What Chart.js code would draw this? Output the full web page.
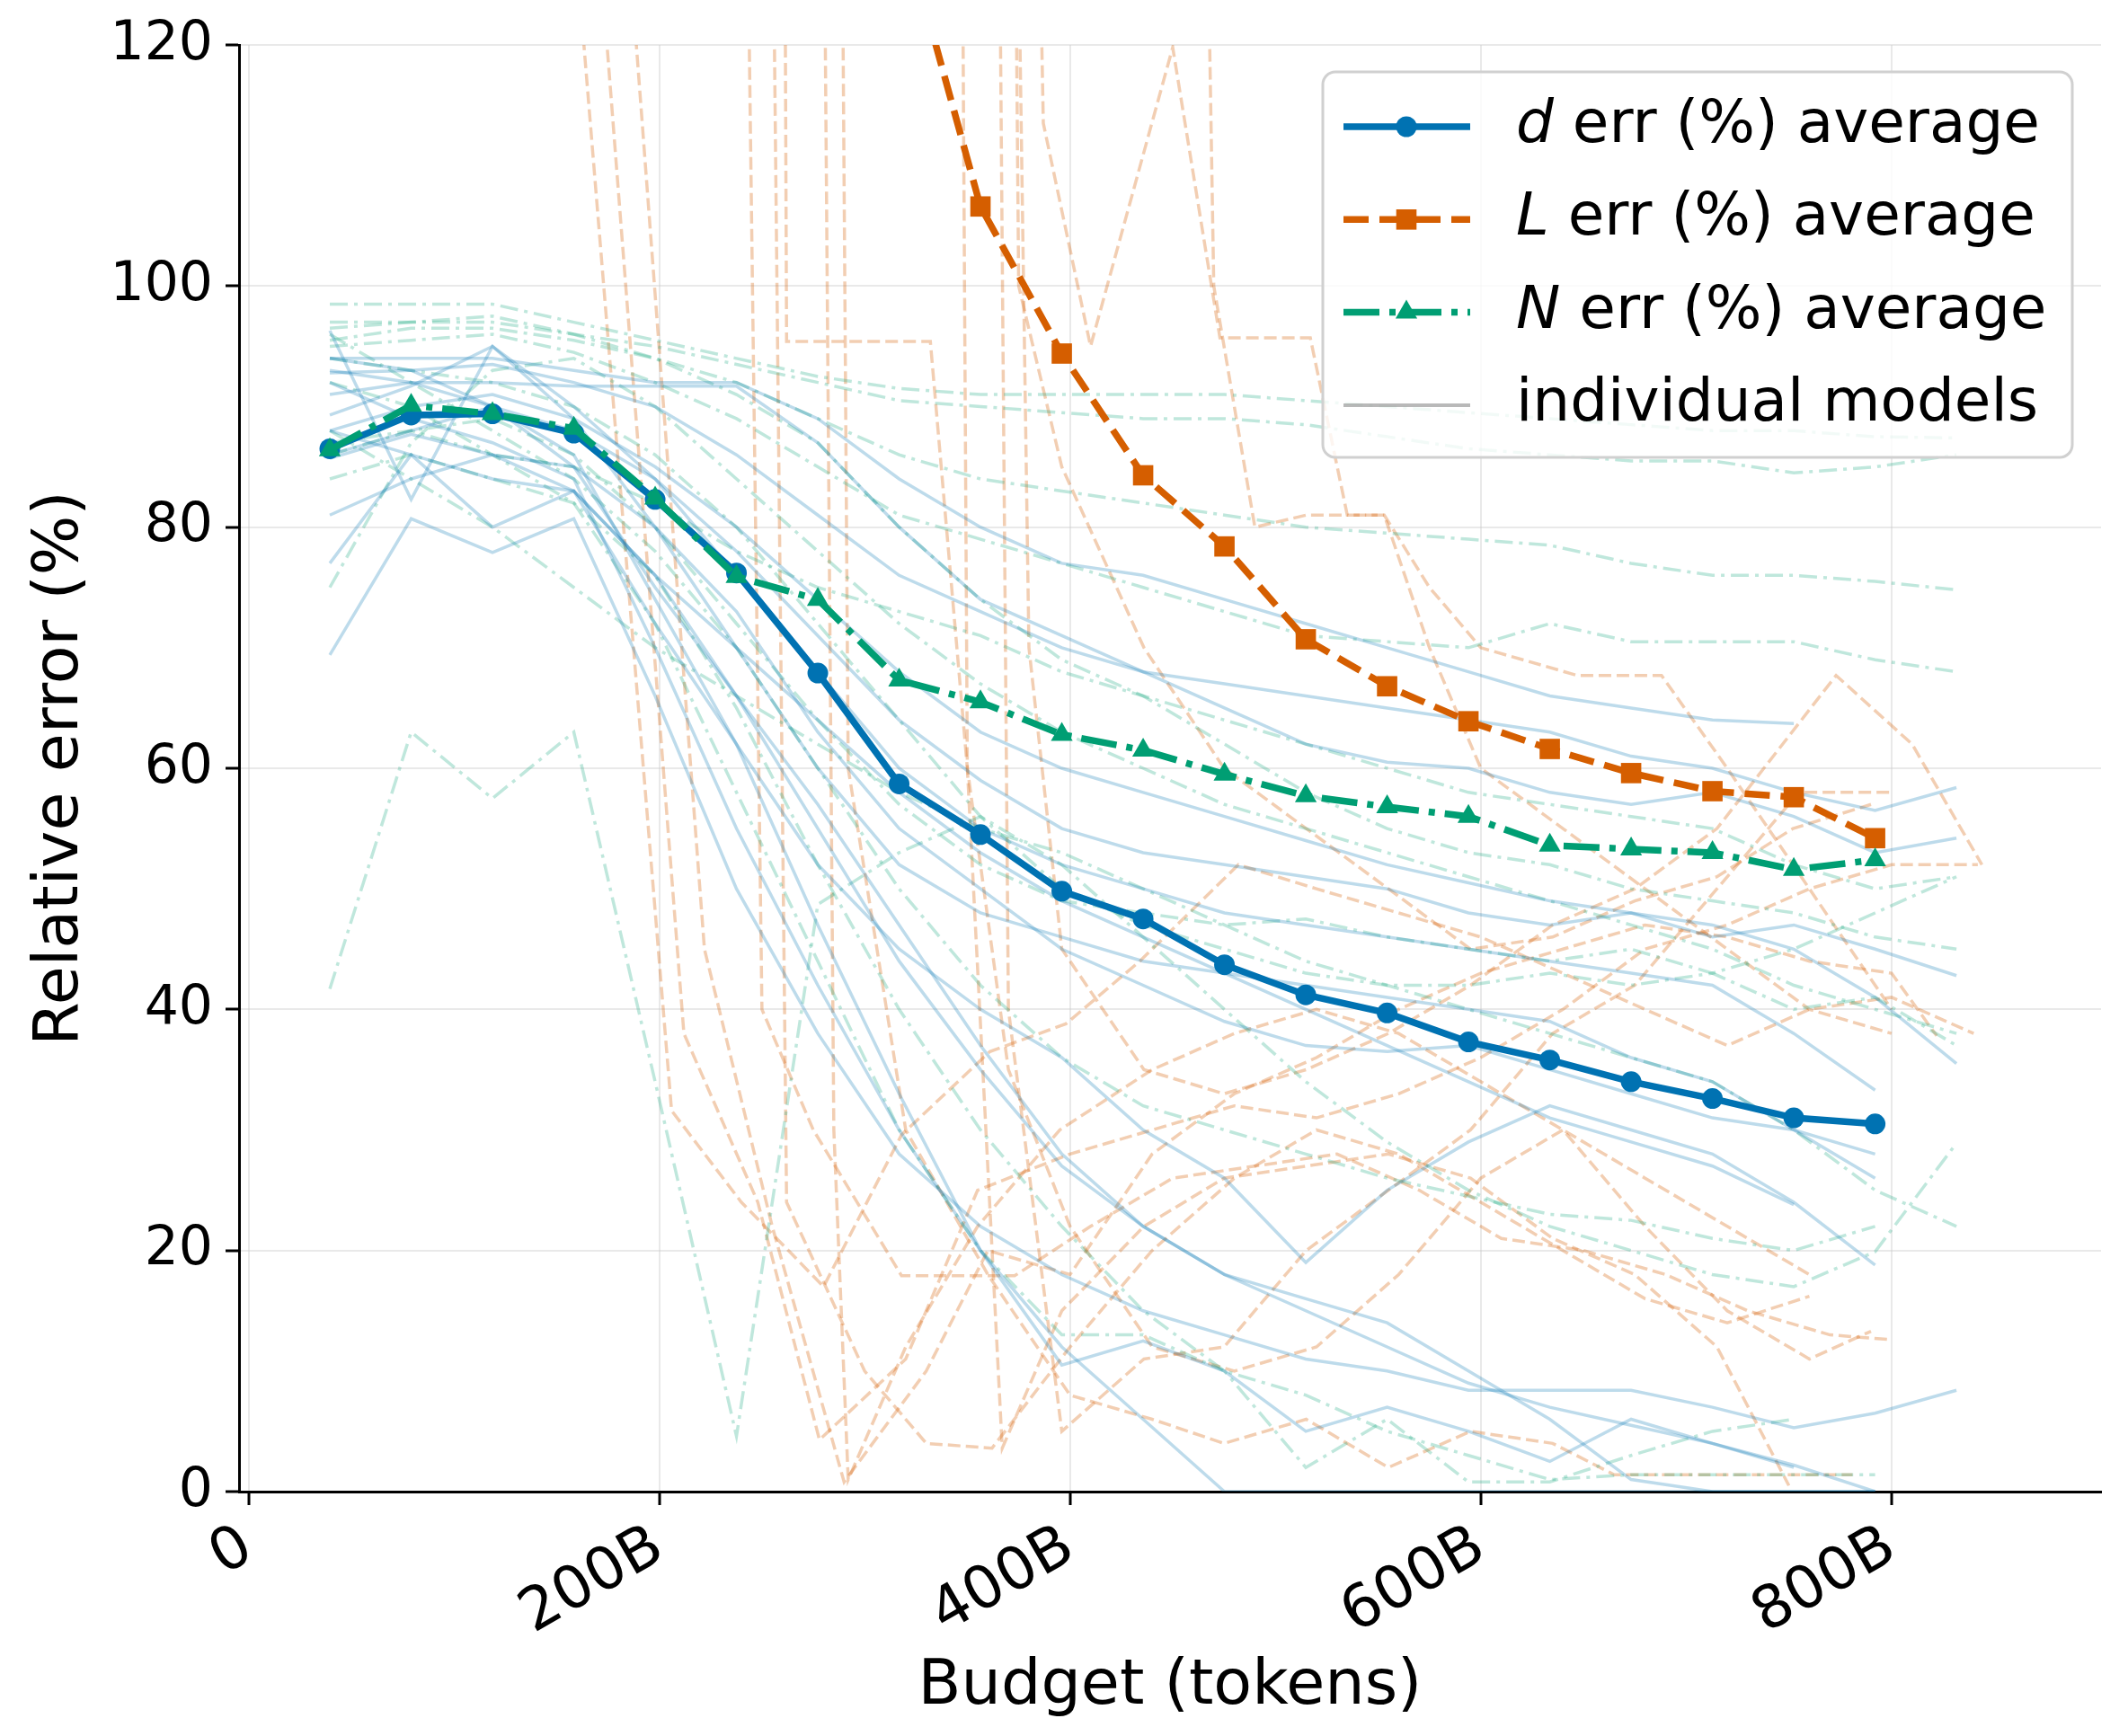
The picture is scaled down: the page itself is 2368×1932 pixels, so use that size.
<!DOCTYPE html>
<html>
<head>
  <meta charset="utf-8">
  <title>Relative error vs budget</title>
  <style>
    body { margin: 0; background: #fff; }
    #wrap { width: 2368px; height: 1932px; }
  </style>
</head>
<body>
<div id="wrap"><canvas id="errChart" width="2368" height="1932"></canvas></div>

<script src="https://cdn.jsdelivr.net/npm/chart.js"></script>
<script>
  // budget grid (billions of tokens)
  var budgets = [39.6, 79.2, 118.8, 158.4, 198, 237.6, 277.2, 316.8, 356.4, 396,
                 435.6, 475.2, 514.8, 554.4, 594, 633.6, 673.2, 712.8, 752.4, 792, 831.6];
  var xTicks = [0, 200, 400, 600, 800];

  // averages
  var dAvg = [86.5, 89.3, 89.4, 87.8, 82.3, 76.2, 67.9, 58.7, 54.5, 49.8,
              47.5, 43.7, 41.2, 39.7, 37.3, 35.8, 34.0, 32.6, 31.0, 30.5];
  var lAvg = [null, null, null, null, null, null, 170, 131, 106.6, 94.4,
              84.3, 78.4, 70.7, 66.8, 63.9, 61.6, 59.6, 58.1, 57.6, 54.2];
  var nAvg = [86.4, 90.1, 89.4, 88.2, 82.4, 75.9, 74.0, 67.3, 65.5, 62.8,
              61.5, 59.5, 57.7, 56.8, 56.0, 53.6, 53.3, 53.0, 51.6, 52.4];

  // individual models, d err (on budget grid)
  var dModels = [
    [94, 94, 94, 93, 92, 92, 89, 84, 80, 77, 76, 74, 72, 70, 68, 66, 65, 64, 63.7],
    [92.8, 93, 93.5, 92, 90, 86, 81, 76, 73, 70, 68, 67, 66, 65, 64, 63, 61, 60, 58, 56.5, 58.4],
    [91, 92, 92, 91.7, 91.7, 91.7, 87, 80, 74, 71, 68, 65, 62, 60.5, 60, 58, 57, 58, 56, 53, 54.2],
    [89.3, 91.7, 95, 90, 84, 78, 71, 64, 59, 55, 53, 52, 51, 50, 48, 47, 48, 46, 47, 45, 42.8],
    [88, 90, 91, 89, 85, 80, 74, 68, 63, 60, 58, 56, 54, 52, 50.5, 49, 48, 47, 45, 41, 35.5],
    [86, 88, 90, 88, 84, 76, 68, 60, 55, 52, 50, 48, 47, 46, 45, 44, 43, 42, 38, 33.3],
    [85.7, 87.7, 86, 85, 80, 73, 63, 55, 50, 45, 42, 39, 37, 36.5, 37, 35, 33, 31, 30, 26],
    [81, 84, 86, 83, 76, 70, 64, 58, 53, 49, 46, 43, 40, 37, 34, 31, 29, 27, 23.8],
    [77, 86, 80, 83, 72, 62, 52, 45, 40, 36, 30, 26, 19, 25, 29, 32, 30, 28, 24, 18.8],
    [93, 92, 90, 86, 74, 62, 47, 33, 20, 12, 6, 0, 0, 0, 0, 0, 0, 0, 0, 0],
    [69.4, 80.7, 77.9, 80.7, 66, 50, 38, 28, 22, 18, 15, 13, 11, 10, 8.4, 8.4, 8.4, 7, 5.3, 6.5, 8.4],
    [94, 93, 90, 85, 75, 66, 57, 47, 37, 28, 22, 18, 15, 12, 9, 7, 5.5, 4, 2],
    [92, 89, 87, 84, 70, 55, 42, 30, 20, 10.5, 12.5, 10, 5, 7, 5, 2.5, 6, 4, 2.2, 0],
    [88, 86, 84, 83, 76, 66, 55, 44, 35, 27, 22, 18, 16, 14, 10, 6, 1, 0, 0, 0],
    [96.3, 82.3, 95, 89, 80, 70, 60, 52, 48, 46, 44, 43, 42, 41, 40, 39, 36, 34, 30, 28]
  ];

  // individual models, N err (on budget grid)
  var nModels = [
    [98.5, 98.5, 98.5, 97, 95.5, 94, 92.5, 91.5, 91, 91, 91, 91, 90.5, 90, 89.5, 89, 88.5, 88, 88, 87.5, 87.4],
    [96.5, 97, 97.5, 96, 95, 93.5, 92, 90.5, 90, 89.5, 89, 89, 88.5, 87.5, 86.5, 86, 85.5, 85.5, 84.5, 85, 86],
    [95.5, 96.5, 96.5, 95.5, 94, 92, 89, 86, 84, 83, 82, 81, 80, 79.5, 79, 78.5, 77, 76, 76, 75.5, 74.8],
    [95, 95.5, 96, 94.5, 92, 89, 85, 81, 79, 77, 75, 73, 71, 70.5, 70, 72, 70.5, 70.5, 70.5, 69, 68],
    [87, 88, 86, 85, 82, 78, 75, 73, 71, 68, 66, 64, 62, 60, 58, 57, 56, 55, 52, 50, 51],
    [41.7, 63, 57.5, 63, 34, 4.6, 48.7, 53, 56, 52, 46, 40, 34, 29, 25, 22, 20, 18, 17, 19.9, 28.9],
    [75, 87, 93, 94, 90, 84, 78, 72, 67, 63, 60, 57, 55, 53, 51, 49, 47, 45, 42, 40, 38],
    [84, 86, 84, 82, 76, 65, 52, 40, 30, 22, 15, 10, 8, 5, 3, 1, 1.4, 1.4, 1.4, 1.4],
    [92, 90, 86, 82, 72, 58, 44, 30, 20, 13, 13, 10, 2, 6, 0.8, 0.8, 3, 5, 6],
    [88, 84, 80, 75, 70, 66, 62, 58, 55, 53, 50, 47, 44, 42, 40, 38, 36, 34, 30, 25, 22],
    [96, 92, 88, 84, 78, 70, 60, 50, 42, 36, 32, 30, 28, 26, 24.5, 23, 22.5, 21, 20, 22],
    [94, 93, 92, 90, 86, 80, 72, 64, 56, 50, 47, 45, 43, 42, 42, 43, 42, 43, 40, 41, 37],
    [86, 88, 89, 86, 80, 72, 64, 57, 52, 49, 48, 47, 47.5, 46, 45, 44, 45, 43, 45, 48, 51],
    [97, 97, 97, 96, 94, 91, 87, 80, 74, 69, 66, 62, 58, 55, 53, 52, 50, 49, 48, 46, 45]
  ];

  // individual models, L err ([budget B, err %]); these drop in from far above the axis
  var lModels = [
    [[158, 131], [206, 31.6], [240, 24], [280, 17], [318, 29.6], [361, 36.5], [398, 38.8], [434, 44], [482, 52], [520, 50], [560, 48], [600, 46], [640, 43], [680, 40], [720, 37], [760, 40], [800, 41], [840, 38]],
    [[170, 130], [212, 38], [248, 24], [278, 4.3], [320, 11], [355, 25], [400, 28], [440, 30], [480, 32], [520, 31], [560, 33], [600, 36], [640, 40], [680, 45], [720, 47], [760, 50], [800, 52], [842, 52]],
    [[180, 140], [222, 45], [255, 22], [290, 0.8], [330, 10], [360, 20], [400, 18], [440, 28], [480, 33], [520, 36], [560, 40], [600, 43], [640, 45], [680, 47], [720, 46], [760, 44], [800, 43], [822, 37.8]],
    [[230, 300], [250, 40], [275, 30], [318, 17.9], [373, 17.9], [410, 22], [450, 26], [490, 27], [530, 28], [570, 25], [610, 21], [650, 20], [690, 18], [730, 15], [770, 13], [800, 12.6]],
    [[245, 300], [262, 24], [300, 10], [330, 4], [362, 3.6], [400, 12], [440, 20], [480, 26], [520, 30], [560, 28], [600, 24], [640, 20], [680, 16], [720, 14], [760, 16.2]],
    [[250, 600], [262, 95.4], [332, 95.4], [350, 60], [370, 35], [400, 22], [440, 12], [480, 10], [520, 12], [560, 18], [600, 26], [640, 30], [680, 22], [720, 15], [760, 11], [790, 13.3]],
    [[268, 400], [285, 30], [292, 1.0], [320, 12], [355, 22], [395, 30], [440, 35], [480, 38], [520, 40], [560, 38], [600, 34], [640, 30], [680, 26], [720, 22], [760, 18]],
    [[278, 400], [292, 60], [320, 30], [360, 18], [400, 8], [440, 6], [475, 4], [515, 6], [555, 2], [595, 5], [635, 4], [665, 1.4], [781, 1.4]],
    [[335, 500], [350, 60], [367, 3.6], [396, 15], [436, 22], [475, 26], [515, 27], [555, 28], [595, 26], [635, 21], [675, 18], [715, 12], [750, 0.5]],
    [[348, 500], [370, 40], [396, 5], [436, 11], [475, 12], [515, 20], [555, 25], [595, 30], [635, 38], [675, 42], [715, 50], [755, 58], [800, 58]],
    [[355, 400], [387, 113.5], [410, 95], [450, 119.8], [473, 95.7], [517, 95.7], [535, 81], [553, 81], [575, 70], [600, 60], [640, 55], [680, 50], [720, 45], [760, 40], [800, 38]],
    [[360, 300], [380, 70], [396, 45], [436, 35], [475, 33], [515, 35], [555, 38], [595, 42], [635, 47], [675, 50], [715, 55], [773, 67.7], [810, 62], [844, 52]],
    [[450, 300], [470, 100], [490, 80], [515, 81], [553, 81], [575, 75], [600, 70], [647, 67.7], [688, 67.7], [720, 60], [760, 50], [800, 40]],
    [[360, 400], [375, 100], [396, 85], [436, 70], [475, 60], [515, 55], [555, 50], [595, 45], [635, 46], [675, 49], [715, 51], [752, 55], [790, 57]]
  ];

  var BLUE = '#0072B2', ORANGE = '#D55E00', GREEN = '#009E73';

  function onGrid(vals) {
    var pts = [];
    for (var i = 0; i < vals.length; i++) {
      if (vals[i] !== null) pts.push({ x: budgets[i], y: vals[i] });
    }
    return pts;
  }
  function fromPairs(pairs) {
    return pairs.map(function (p) { return { x: p[0], y: p[1] }; });
  }

  var datasets = [];
  // averages first so they sit on top
  datasets.push({ label: 'N err (%) average', data: onGrid(nAvg), borderColor: GREEN, backgroundColor: GREEN,
    borderWidth: 7.5, borderDash: [40, 11, 7, 11], pointStyle: 'triangle', pointRadius: 14, pointBorderWidth: 0 });
  datasets.push({ label: 'd err (%) average', data: onGrid(dAvg), borderColor: BLUE, backgroundColor: BLUE,
    borderWidth: 7.5, pointStyle: 'circle', pointRadius: 11.5, pointBorderWidth: 0 });
  datasets.push({ label: 'L err (%) average', data: onGrid(lAvg), borderColor: ORANGE, backgroundColor: ORANGE,
    borderWidth: 7.5, borderDash: [28, 12], pointStyle: 'rect', pointRadius: 16, pointBorderWidth: 0 });

  dModels.forEach(function (m) {
    datasets.push({ data: onGrid(m), borderColor: 'rgba(0,114,178,0.26)', borderWidth: 3.5, pointRadius: 0 });
  });
  nModels.forEach(function (m) {
    datasets.push({ data: onGrid(m), borderColor: 'rgba(0,158,115,0.25)', borderWidth: 3.5,
      borderDash: [20, 7, 4, 7], pointRadius: 0 });
  });
  lModels.forEach(function (m) {
    datasets.push({ data: fromPairs(m), borderColor: 'rgba(213,94,0,0.3)', borderWidth: 3.5,
      borderDash: [14, 6], pointRadius: 0 });
  });

  // matplotlib style legend with italic symbols
  var legendRows = [
    { sym: 'd', rest: ' err (%) average', color: BLUE, dash: [], marker: 'circle' },
    { sym: 'L', rest: ' err (%) average', color: ORANGE, dash: [28, 12], marker: 'rect' },
    { sym: 'N', rest: ' err (%) average', color: GREEN, dash: [40, 11, 7, 11], marker: 'triangle' },
    { sym: '', rest: 'individual models', color: 'rgba(128,128,128,0.55)', dash: [], marker: null }
  ];

  var boxLegend = {
    id: 'boxLegend',
    afterDraw: function (chart) {
      var ctx = chart.ctx;
      var bx = 1472, by = 80, bw = 834, bh = 429, r = 14;
      ctx.save();
      ctx.beginPath();
      ctx.moveTo(bx + r, by);
      ctx.arcTo(bx + bw, by, bx + bw, by + bh, r);
      ctx.arcTo(bx + bw, by + bh, bx, by + bh, r);
      ctx.arcTo(bx, by + bh, bx, by, r);
      ctx.arcTo(bx, by, bx + bw, by, r);
      ctx.closePath();
      ctx.fillStyle = 'rgba(255,255,255,0.8)';
      ctx.fill();
      ctx.strokeStyle = '#d0d0d0';
      ctx.lineWidth = 3;
      ctx.stroke();

      legendRows.forEach(function (row, i) {
        var y = 141 + i * 103.3;
        ctx.setLineDash(row.dash);
        ctx.strokeStyle = row.color;
        ctx.lineWidth = row.marker ? 7.5 : 4;
        ctx.beginPath();
        ctx.moveTo(1495, y);
        ctx.lineTo(1636, y);
        ctx.stroke();
        ctx.setLineDash([]);
        ctx.fillStyle = row.color;
        var mx = 1565;
        if (row.marker === 'circle') {
          ctx.beginPath(); ctx.arc(mx, y, 11.5, 0, Math.PI * 2); ctx.fill();
        } else if (row.marker === 'rect') {
          ctx.fillRect(mx - 11.3, y - 11.3, 22.6, 22.6);
        } else if (row.marker === 'triangle') {
          ctx.beginPath();
          ctx.moveTo(mx, y - 14);
          ctx.lineTo(mx + 12.1, y + 7);
          ctx.lineTo(mx - 12.1, y + 7);
          ctx.closePath(); ctx.fill();
        }
        ctx.fillStyle = '#000';
        ctx.textBaseline = 'middle';
        ctx.textAlign = 'left';
        var tx = 1687;
        if (row.sym) {
          ctx.font = 'italic 66px "DejaVu Sans"';
          ctx.fillText(row.sym, tx, y);
          tx += ctx.measureText(row.sym).width;
        }
        ctx.font = '66px "DejaVu Sans"';
        ctx.fillText(row.rest, tx, y);
      });
      ctx.restore();
    }
  };

  Chart.defaults.font.family = '"DejaVu Sans", sans-serif';
  Chart.defaults.color = '#000';

  var errChart = new Chart(document.getElementById('errChart').getContext('2d'), {
    type: 'line',
    data: { datasets: datasets },
    options: {
      responsive: false,
      devicePixelRatio: 1,
      animation: false,
      events: [],
      layout: { padding: { top: 48, right: 30, left: 0, bottom: 0 } },
      elements: { line: { tension: 0, fill: false } },
      plugins: { legend: { display: false }, tooltip: { enabled: false } },
      scales: {
        x: {
          type: 'linear',
          min: -4.6,
          max: 902,
          afterBuildTicks: function (scale) {
            scale.ticks = xTicks.map(function (v) { return { value: v }; });
          },
          afterFit: function (scale) { scale.height = 272; },
          ticks: {
            autoSkip: false,
            minRotation: 30,
            maxRotation: 30,
            padding: 8,
            font: { size: 66 },
            callback: function (v) { return v === 0 ? '0' : v + 'B'; }
          },
          grid: { color: 'rgba(200,200,200,0.4)', lineWidth: 2, tickColor: '#000', tickLength: 15, tickWidth: 3 },
          border: { color: '#000', width: 3 },
          title: { display: true, text: 'Budget (tokens)', font: { size: 70 }, padding: { top: 0, bottom: 12 } }
        },
        y: {
          min: 0,
          max: 120,
          afterFit: function (scale) { scale.width = 266; },
          ticks: { stepSize: 20, padding: 14, font: { size: 60 } },
          grid: { color: 'rgba(200,200,200,0.4)', lineWidth: 2, tickColor: '#000', tickLength: 15, tickWidth: 3 },
          border: { color: '#000', width: 3 },
          title: { display: true, text: 'Relative error (%)', font: { size: 70 }, padding: { top: 26, bottom: 0 } }
        }
      }
    },
    plugins: [boxLegend]
  });
</script>
</body>
</html>
